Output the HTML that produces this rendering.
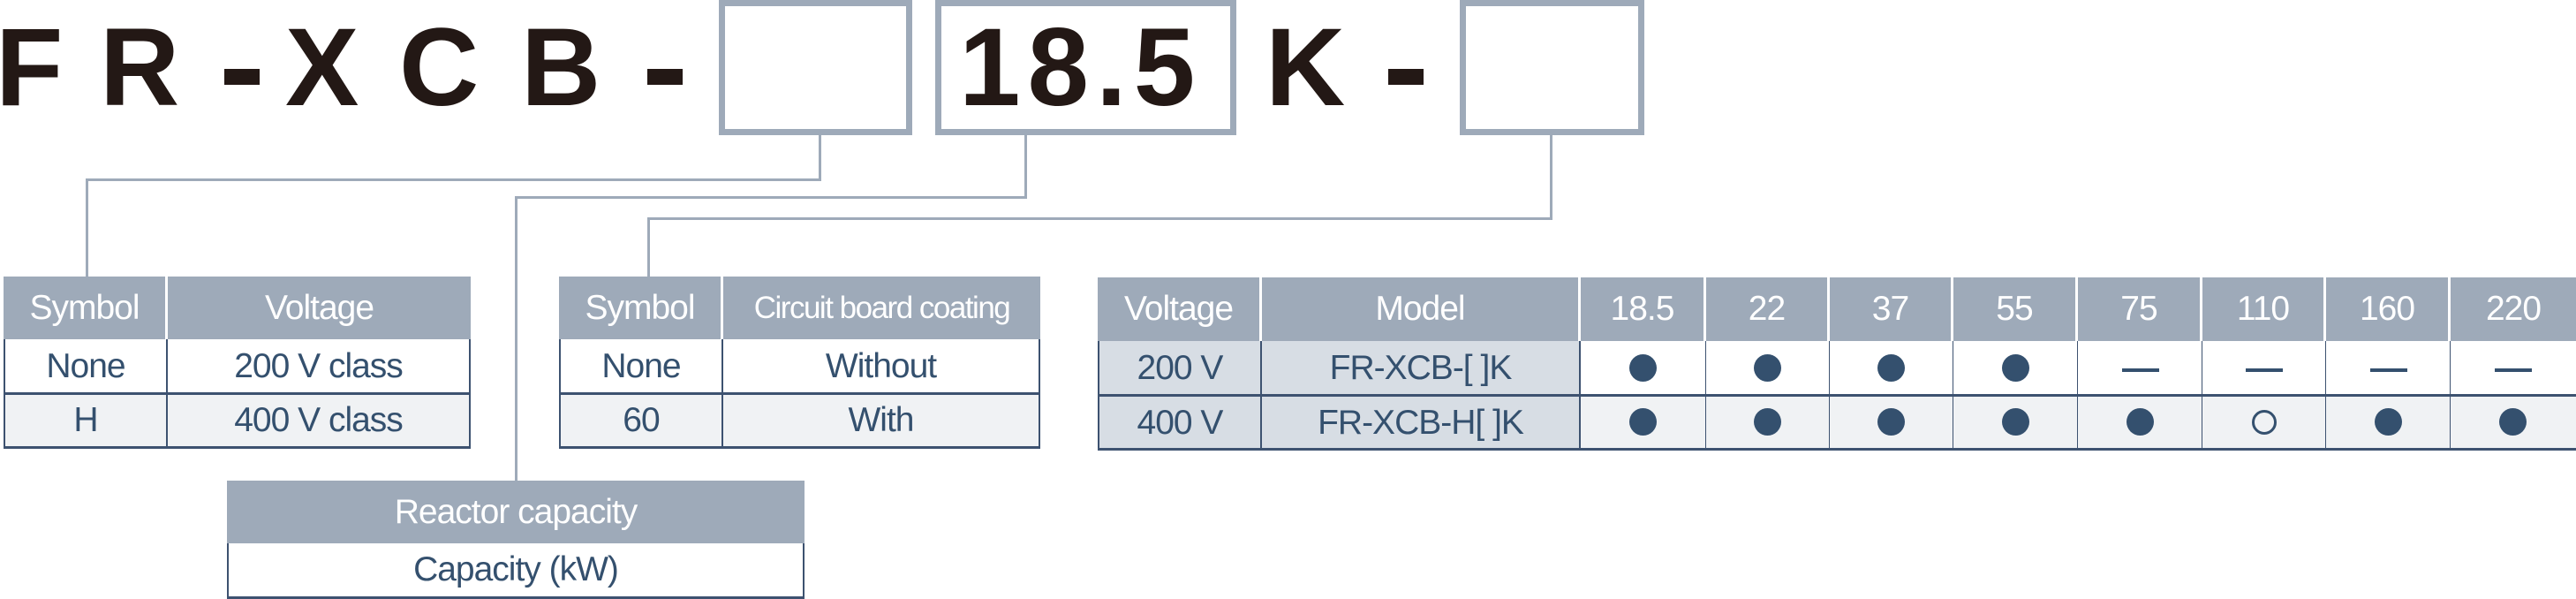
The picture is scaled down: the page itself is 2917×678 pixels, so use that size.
<!DOCTYPE html>
<html><head><meta charset="utf-8"><style>
body{margin:0;width:2917px;height:678px;background:#fff;position:relative;overflow:hidden;font-family:"Liberation Sans",sans-serif}
.a{position:absolute}
.big{position:absolute;font-weight:bold;font-size:125px;line-height:1;color:#231815;top:14px}
.bd{position:absolute;background:#231815;width:40px;height:18px;top:78px}
.box{position:absolute;border:7px solid #9eaab9;box-sizing:border-box}
.ln{position:absolute;background:#9eaab9}
.c{position:absolute;box-sizing:border-box;display:flex;align-items:center;justify-content:center;font-size:39px;letter-spacing:-1px;color:#34506e}
.h{background:#9eaab9;color:#fff;border-right:3px solid #fff}
.dot{width:31px;height:31px;border-radius:50%;background:#34506e}
.odot{width:28px;height:28px;border-radius:50%;border:3px solid #34506e;box-sizing:border-box}
.dash{width:42px;height:4px;background:#34506e}
</style></head><body>
<div class="big" style="left:-5px">F</div>
<div class="big" style="left:113px">R</div>
<div class="bd" style="left:254px"></div>
<div class="big" style="left:323px">X</div>
<div class="big" style="left:452px">C</div>
<div class="big" style="left:590px">B</div>
<div class="bd" style="left:733px"></div>
<div class="big" style="left:1086px;letter-spacing:8px">18.5</div>
<div class="big" style="left:1433px">K</div>
<div class="bd" style="left:1572px"></div>
<div class="box" style="left:814px;top:0px;width:219px;height:153px"></div>
<div class="box" style="left:1059px;top:0px;width:341px;height:153px"></div>
<div class="box" style="left:1653px;top:0px;width:209px;height:153px"></div>
<!-- connectors -->
<div class="ln" style="left:927px;top:153px;width:3px;height:52px"></div>
<div class="ln" style="left:97px;top:202px;width:833px;height:3px"></div>
<div class="ln" style="left:97px;top:202px;width:3px;height:112px"></div>
<div class="ln" style="left:1160px;top:153px;width:3px;height:72px"></div>
<div class="ln" style="left:583px;top:222px;width:580px;height:3px"></div>
<div class="ln" style="left:583px;top:222px;width:3px;height:322px"></div>
<div class="ln" style="left:1755px;top:153px;width:3px;height:96px"></div>
<div class="ln" style="left:733px;top:246px;width:1025px;height:3px"></div>
<div class="ln" style="left:733px;top:246px;width:3px;height:68px"></div>
<!-- table1 -->
<div class="c h" style="left:4px;top:313px;width:186px;height:71px">Symbol</div>
<div class="c h" style="left:190px;top:313px;width:343px;height:71px;border-right:none">Voltage</div>
<div class="c" style="left:4px;top:384px;width:186px;height:61px;border-right:2px solid #3d5270;border-left:2px solid #3d5270">None</div>
<div class="c" style="left:190px;top:384px;width:343px;height:61px;border-right:2px solid #3d5270">200 V class</div>
<div class="a" style="left:4px;top:444px;width:529px;height:3px;background:#3d5270"></div>
<div class="c" style="left:4px;top:447px;width:186px;height:58px;background:#f0f2f4;border-right:2px solid #3d5270;border-left:2px solid #3d5270">H</div>
<div class="c" style="left:190px;top:447px;width:343px;height:58px;background:#f0f2f4;border-right:2px solid #3d5270">400 V class</div>
<div class="a" style="left:4px;top:505px;width:529px;height:3px;background:#3d5270"></div>
<!-- table2 -->
<div class="c h" style="left:633px;top:313px;width:186px;height:71px">Symbol</div>
<div class="c h" style="left:819px;top:313px;width:359px;height:71px;border-right:none;font-size:35px;letter-spacing:-1.5px">Circuit board coating</div>
<div class="c" style="left:633px;top:384px;width:186px;height:61px;border-right:2px solid #3d5270;border-left:2px solid #3d5270">None</div>
<div class="c" style="left:819px;top:384px;width:359px;height:61px;border-right:2px solid #3d5270">Without</div>
<div class="a" style="left:633px;top:444px;width:545px;height:3px;background:#3d5270"></div>
<div class="c" style="left:633px;top:447px;width:186px;height:58px;background:#f0f2f4;border-right:2px solid #3d5270;border-left:2px solid #3d5270">60</div>
<div class="c" style="left:819px;top:447px;width:359px;height:58px;background:#f0f2f4;border-right:2px solid #3d5270">With</div>
<div class="a" style="left:633px;top:505px;width:545px;height:3px;background:#3d5270"></div>
<!-- reactor -->
<div class="c h" style="left:257px;top:544px;width:654px;height:71px;border-right:none">Reactor capacity</div>
<div class="c" style="left:257px;top:615px;width:654px;height:60px;border-left:2px solid #3d5270;border-right:2px solid #3d5270">Capacity (kW)</div>
<div class="a" style="left:257px;top:675px;width:654px;height:3px;background:#3d5270"></div>
<!-- table3 -->
<div class="c h" style="left:1243px;top:314px;width:186px;height:72px">Voltage</div>
<div class="c h" style="left:1429px;top:314px;width:361px;height:72px">Model</div>
<div class="c h" style="left:1790px;top:314px;width:142px;height:72px">18.5</div>
<div class="c h" style="left:1932px;top:314px;width:140px;height:72px">22</div>
<div class="c h" style="left:2072px;top:314px;width:140px;height:72px">37</div>
<div class="c h" style="left:2212px;top:314px;width:141px;height:72px">55</div>
<div class="c h" style="left:2353px;top:314px;width:141px;height:72px">75</div>
<div class="c h" style="left:2494px;top:314px;width:140px;height:72px">110</div>
<div class="c h" style="left:2634px;top:314px;width:141px;height:72px">160</div>
<div class="c h" style="left:2775px;top:314px;width:142px;height:72px;border-right:none">220</div>
<div class="c" style="left:1243px;top:386px;width:186px;height:61px;background:#d7dde4;border-left:2px solid #3d5270;border-right:2px solid #3d5270">200 V</div>
<div class="c" style="left:1429px;top:386px;width:361px;height:61px;background:#d7dde4;border-right:2px solid #3d5270">FR-XCB-[ ]K</div>
<div class="c" style="left:1243px;top:449px;width:186px;height:59px;background:#d7dde4;border-left:2px solid #3d5270;border-right:2px solid #3d5270">400 V</div>
<div class="c" style="left:1429px;top:449px;width:361px;height:59px;background:#d7dde4;border-right:2px solid #3d5270">FR-XCB-H[ ]K</div>
<div class="a" style="left:1790px;top:449px;width:1127px;height:59px;background:#f0f2f4"></div>
<div class="a" style="left:1931px;top:386px;width:1px;height:122px;background:#3d5270"></div>
<div class="a" style="left:2071px;top:386px;width:1px;height:122px;background:#3d5270"></div>
<div class="a" style="left:2211px;top:386px;width:1px;height:122px;background:#3d5270"></div>
<div class="a" style="left:2352px;top:386px;width:1px;height:122px;background:#3d5270"></div>
<div class="a" style="left:2493px;top:386px;width:1px;height:122px;background:#3d5270"></div>
<div class="a" style="left:2633px;top:386px;width:1px;height:122px;background:#3d5270"></div>
<div class="a" style="left:2774px;top:386px;width:1px;height:122px;background:#3d5270"></div>
<div class="a" style="left:1243px;top:446px;width:1674px;height:3px;background:#3d5270"></div>
<div class="a" style="left:1243px;top:507px;width:1674px;height:3px;background:#3d5270"></div>
<div class="a dot" style="left:1845px;top:401px"></div>
<div class="a dot" style="left:1986px;top:401px"></div>
<div class="a dot" style="left:2126px;top:401px"></div>
<div class="a dot" style="left:2267px;top:401px"></div>
<div class="a dash" style="left:2403px;top:417px"></div>
<div class="a dash" style="left:2543px;top:417px"></div>
<div class="a dash" style="left:2684px;top:417px"></div>
<div class="a dash" style="left:2825px;top:417px"></div>
<div class="a dot" style="left:1845px;top:462px"></div>
<div class="a dot" style="left:1986px;top:462px"></div>
<div class="a dot" style="left:2126px;top:462px"></div>
<div class="a dot" style="left:2267px;top:462px"></div>
<div class="a dot" style="left:2408px;top:462px"></div>
<div class="a odot" style="left:2550px;top:464px"></div>
<div class="a dot" style="left:2689px;top:462px"></div>
<div class="a dot" style="left:2830px;top:462px"></div>
</body></html>
